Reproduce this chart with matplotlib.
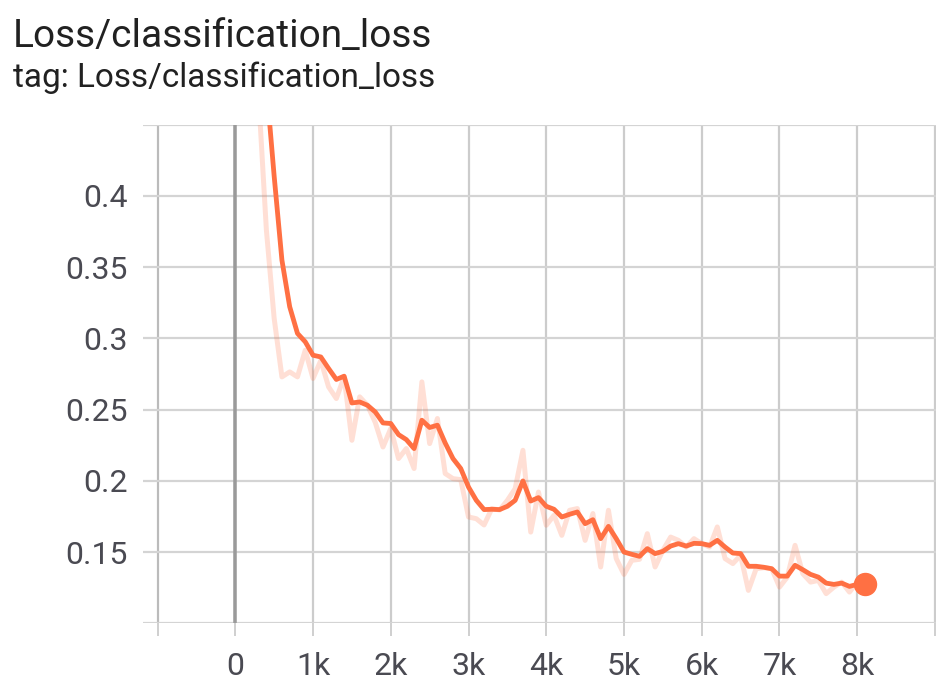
import numpy as np
import matplotlib
matplotlib.use('Agg')
import matplotlib.pyplot as plt

plt.rcParams['font.family'] = ['Roboto', 'DejaVu Sans']

steps = list(range(300, 8200, 100))
raw_loss = [0.47, 0.376, 0.314, 0.2729, 0.2764, 0.2729, 0.2916, 0.2718, 0.2844, 0.2659,
            0.2577, 0.2729, 0.2284, 0.2589, 0.2530, 0.2410, 0.2237, 0.2367, 0.2156, 0.2226,
            0.2086, 0.2694, 0.2261, 0.2437, 0.2051, 0.2015, 0.2008, 0.1746, 0.1734, 0.1690,
            0.1805, 0.1795, 0.1863, 0.1945, 0.2214, 0.1640, 0.1921, 0.1688, 0.1758, 0.1617,
            0.1793, 0.1805, 0.1582, 0.1770, 0.1395, 0.1793, 0.1454, 0.1343, 0.1442, 0.1449,
            0.1629, 0.1395, 0.1512, 0.1605, 0.1582, 0.1535, 0.1594, 0.1559, 0.1535, 0.1676,
            0.1454, 0.1419, 0.1477, 0.1231, 0.1383, 0.1390, 0.1383, 0.1254, 0.1324, 0.1547,
            0.1348, 0.1289, 0.1301, 0.1208, 0.1254, 0.1289, 0.1219, 0.1289, 0.1285]
smooth_loss = [0.55, 0.478, 0.4138, 0.3548, 0.3221, 0.3034, 0.2975, 0.2881, 0.2869, 0.2788,
               0.2711, 0.2734, 0.2546, 0.2553, 0.2530, 0.2483, 0.2406, 0.2402, 0.2324, 0.2289,
               0.2226, 0.2425, 0.2374, 0.2390, 0.2265, 0.2156, 0.2086, 0.1956, 0.1863, 0.1798,
               0.1800, 0.1798, 0.1821, 0.1863, 0.1999, 0.1858, 0.1882, 0.1821, 0.1800, 0.1746,
               0.1765, 0.1781, 0.1699, 0.1727, 0.1594, 0.1680, 0.1594, 0.1500, 0.1484, 0.1470,
               0.1524, 0.1489, 0.1505, 0.1542, 0.1559, 0.1542, 0.1561, 0.1559, 0.1547, 0.1582,
               0.1535, 0.1493, 0.1489, 0.1400, 0.1400, 0.1393, 0.1383, 0.1331, 0.1331, 0.1407,
               0.1376, 0.1343, 0.1324, 0.1282, 0.1273, 0.1282, 0.1259, 0.1273, 0.1278]

x_ticks = [-1000, 0, 1000, 2000, 3000, 4000, 5000, 6000, 7000, 8000, 9000]
x_labels = ['', '0', '1k', '2k', '3k', '4k', '5k', '6k', '7k', '8k', '']
y_ticks = [0.1, 0.15, 0.2, 0.25, 0.3, 0.35, 0.4, 0.45]
y_labels = ['', '0.15', '0.2', '0.25', '0.3', '0.35', '0.4', '']

color = '#ff7043'
px = 72 / 100  # points per pixel

fig = plt.figure(figsize=(9.37, 6.96), dpi=100)
ax = fig.add_axes([143 / 937, 1 - 623.3 / 696, 794 / 937, (623.3 - 124.5) / 696])

ax.plot(steps, raw_loss, color=color, alpha=0.22, lw=5 * px, zorder=3)
ax.plot(steps, smooth_loss, color=color, lw=4.8 * px, zorder=4)
ax.plot(steps[-1], smooth_loss[-1], 'o', color=color, ms=22 * px, zorder=5, clip_on=False)

ax.set_xlim(-1187, 9026)
ax.set_ylim(0.1, 0.45)
ax.set_xticks(x_ticks)
ax.set_xticklabels(x_labels)
ax.set_yticks(y_ticks)
ax.set_yticklabels(y_labels)

for s in ax.spines.values():
    s.set_visible(False)

ax.grid(axis='y', color='#d4d4d4', lw=2.2 * px)
ax.grid(axis='x', color='#cccccc', lw=2.2 * px)
gl = ax.get_xgridlines()
gl[0].set_color('#bbbbbb')
ax.axvline(0, color='#9a9a9a', lw=3.5 * px, zorder=2)

ax.tick_params(axis='x', length=13 * px, width=2 * px, color='#d0d0d0', pad=16 * px,
               labelsize=32 * px, labelcolor='#4a4a52')
ax.tick_params(axis='y', length=0, pad=15 * px, labelsize=32 * px, labelcolor='#4a4a52')

fig.text(13 / 937, 1 - 47.3 / 696, 'Loss/classification_loss', fontsize=38.9 * px,
         color='#212121', va='baseline', ha='left')
fig.text(13 / 937, 1 - 87.3 / 696, 'tag: Loss/classification_loss', fontsize=33.3 * px,
         color='#212121', va='baseline', ha='left')

fig.savefig('out.png', dpi=100)
